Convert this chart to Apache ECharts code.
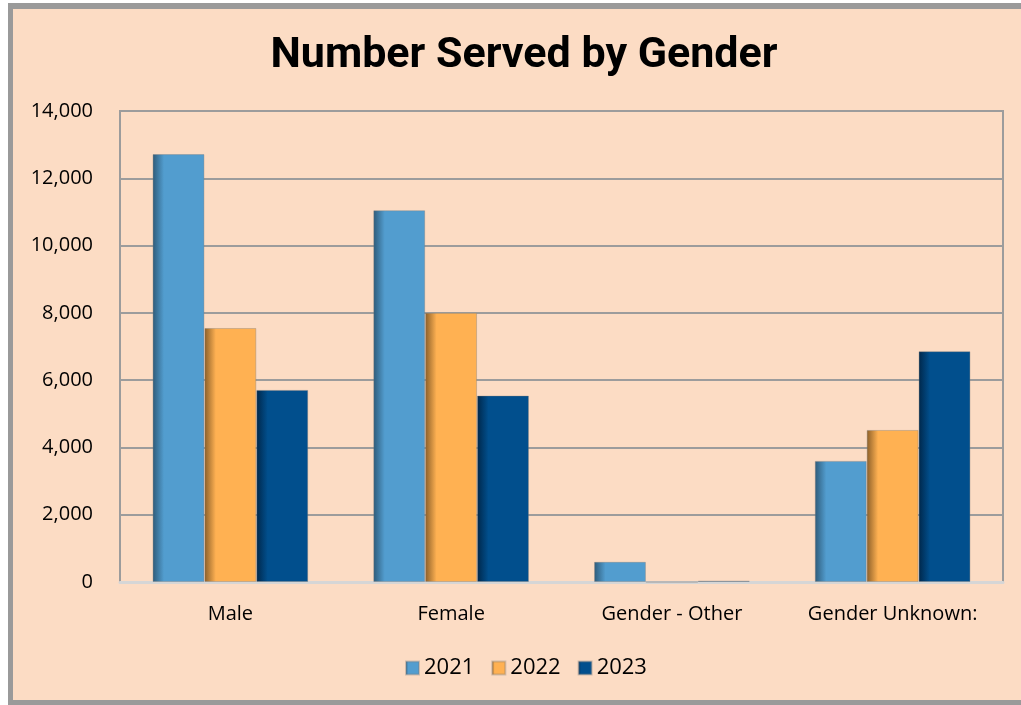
<!DOCTYPE html>
<html>
<head>
<meta charset="utf-8">
<script src="https://cdn.jsdelivr.net/npm/echarts@6/dist/echarts.min.js"></script>
<style>
	html, body { margin: 0; padding: 0; background: #ffffff; }
	.frame {
		position: absolute; left: 8px; top: 3px; width: 1013px; height: 702px;
		background: #FCDCC4;
		border-left: 5px solid #9a9a9a; border-top: 6px solid #9a9a9a; border-bottom: 5px solid #9a9a9a;
		box-sizing: border-box;
	}
	#chart { position: absolute; left: 0; top: 0; width: 1021px; height: 705px; }
</style>
</head>
<body>
<div class="frame"></div>
<div id="chart"></div>
<script>
	const categories = ["Male", "Female", "Gender - Other", "Gender Unknown:"];
	const years = ["2021", "2022", "2023"];
	const served2021 = [12720, 11050, 600, 3600];
	const served2022 = [7550, 8000, 0, 4520];
	const served2023 = [5710, 5540, 40, 6860];
	const yTicks = [0, 2000, 4000, 6000, 8000, 10000, 12000, 14000];

	// base colour and shadow colour for each year
	const palette = [
		["#529DCF", "#2E5A78"],
		["#FFB152", "#8A5E28"],
		["#014F8D", "#00274A"]
	];

	function shaded(i) {
		return {
			type: "linear", x: 0, y: 0, x2: 1, y2: 0,
			colorStops: [
				{ offset: 0, color: palette[i][1] },
				{ offset: 0.22, color: palette[i][0] },
				{ offset: 1, color: palette[i][0] }
			]
		};
	}

	const chart = echarts.init(document.getElementById("chart"));
	const seriesData = [served2021, served2022, served2023];

	const option = {
		backgroundColor: "transparent",
		animation: false,
		title: {
			text: "Number Served by Gender",
			left: 519,
			textAlign: "center",
			top: 30,
			textStyle: { fontFamily: "Roboto", fontWeight: "bold", fontSize: 43, color: "#000" }
		},
		legend: {
			data: years,
			bottom: 21,
			left: 400,
			itemWidth: 13,
			itemHeight: 13,
			itemGap: 17,
			icon: "rect",
			textStyle: { fontFamily: "Open Sans", fontSize: 22, color: "#000", padding: [0, 0, 0, 0] }
		},
		grid: {
			left: 120, right: 18, top: 111, bottom: 123,
			show: true, borderColor: "#9c9c9c", borderWidth: 2
		},
		xAxis: {
			type: "category",
			data: categories,
			axisLine: { lineStyle: { color: "#d6d6d6", width: 3 } },
			axisTick: { show: false },
			axisLabel: { fontFamily: "Open Sans", fontSize: 20, color: "#000", margin: 22 }
		},
		yAxis: {
			type: "value",
			min: yTicks[0],
			max: yTicks[yTicks.length - 1],
			interval: 2000,
			axisLine: { show: false },
			axisTick: { show: false },
			splitLine: { lineStyle: { color: "#9c9c9c", width: 2 } },
			axisLabel: {
				fontFamily: "Open Sans", fontSize: 20, color: "#000", margin: 27,
				formatter: v => v.toLocaleString("en-US")
			}
		},
		series: years.map((y, i) => ({
			name: y,
			type: "bar",
			data: seriesData[i],
			barGap: "0%",
			barCategoryGap: "29.5%",
			itemStyle: { color: shaded(i), borderColor: "rgba(120,120,120,0.35)", borderWidth: 1 }
		}))
	};

	chart.setOption(option);
</script>
</body>
</html>
